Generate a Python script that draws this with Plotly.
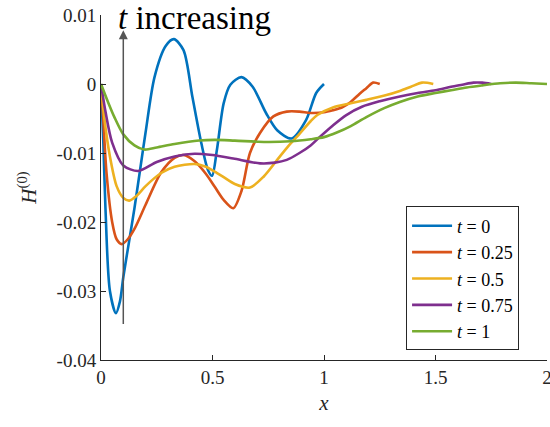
import plotly.graph_objects as go

# ---- data ----
x_t0 = [0, 0.01, 0.02, 0.04, 0.067, 0.085, 0.1, 0.125, 0.15, 0.175, 0.2, 0.24, 0.29, 0.327, 0.37, 0.41, 0.45, 0.48, 0.498, 0.52, 0.55, 0.58, 0.63, 0.68, 0.74, 0.79, 0.855, 0.92, 0.965, 1.0]
y_t0 = [0, -0.008, -0.018, -0.030, -0.0332, -0.0315, -0.028, -0.023, -0.018, -0.0125, -0.007, 0.001, 0.0055, 0.0065, 0.0049, -0.0019, -0.0086, -0.0125, -0.0133, -0.0095, -0.0028, -0.0001, 0.0010, -0.0004, -0.0042, -0.0067, -0.0079, -0.0052, -0.0013, 0.0]

x_t025 = [0, 0.01, 0.025, 0.05, 0.07, 0.093, 0.12, 0.15, 0.2, 0.27, 0.33, 0.37, 0.42, 0.47, 0.51, 0.55, 0.593, 0.63, 0.668, 0.713, 0.773, 0.833, 0.89, 0.94, 1.0, 1.04, 1.08, 1.12, 1.16, 1.19, 1.22, 1.25]
y_t025 = [0, -0.005, -0.013, -0.020, -0.0225, -0.0232, -0.0225, -0.0210, -0.0175, -0.0128, -0.0107, -0.0103, -0.0112, -0.0130, -0.0149, -0.0168, -0.0180, -0.0155, -0.0100, -0.0071, -0.0047, -0.0040, -0.0040, -0.0042, -0.0041, -0.0038, -0.0034, -0.0026, -0.0014, -0.0006, 0.0002, 0.0]

x_t05 = [0, 0.015, 0.04, 0.07, 0.1, 0.127, 0.16, 0.2, 0.27, 0.33, 0.42, 0.47, 0.51, 0.55, 0.6, 0.668, 0.73, 0.79, 0.84, 0.88, 0.94, 0.97, 1.04, 1.12, 1.19, 1.28, 1.34, 1.39, 1.44, 1.49]
y_t05 = [0, -0.005, -0.0105, -0.0148, -0.0165, -0.0169, -0.0162, -0.0148, -0.0129, -0.0120, -0.0116, -0.0120, -0.0127, -0.0135, -0.0145, -0.0150, -0.0134, -0.0110, -0.0090, -0.0076, -0.0054, -0.0045, -0.0034, -0.0028, -0.0023, -0.0016, -0.0010, -0.0004, 0.0002, 0.0]

x_t075 = [0, 0.02, 0.05, 0.1, 0.167, 0.25, 0.33, 0.42, 0.5, 0.593, 0.713, 0.78, 0.833, 0.89, 0.94, 0.98, 1.04, 1.1, 1.17, 1.25, 1.34, 1.42, 1.5, 1.57, 1.62, 1.67, 1.71, 1.75]
y_t075 = [0, -0.004, -0.0085, -0.0118, -0.0126, -0.0113, -0.0105, -0.0101, -0.0103, -0.0108, -0.0115, -0.0114, -0.0110, -0.0100, -0.0089, -0.0077, -0.0060, -0.0045, -0.0033, -0.0025, -0.0018, -0.0013, -0.0009, -0.0004, -0.0001, 0.0002, 0.0002, 0.0]

x_t1 = [0, 0.03, 0.06, 0.1, 0.15, 0.194, 0.25, 0.33, 0.44, 0.51, 0.6, 0.74, 0.85, 0.94, 1.0, 1.06, 1.12, 1.19, 1.27, 1.34, 1.42, 1.5, 1.57, 1.64, 1.71, 1.79, 1.86, 1.93, 2.0]
y_t1 = [0, -0.0025, -0.0048, -0.0073, -0.0089, -0.0095, -0.0092, -0.0087, -0.0082, -0.0081, -0.0082, -0.0084, -0.0083, -0.0080, -0.0077, -0.0070, -0.0061, -0.0048, -0.0035, -0.0026, -0.0018, -0.0013, -0.0009, -0.0005, -0.0002, 0.0001, 0.0002, 0.0001, 0.0]

series_names = ["<i>t</i> = 0", "<i>t</i> = 0.25", "<i>t</i> = 0.5", "<i>t</i> = 0.75", "<i>t</i> = 1"]
series_x = [x_t0, x_t025, x_t05, x_t075, x_t1]
series_y = [y_t0, y_t025, y_t05, y_t075, y_t1]
colors = ["#0072BD", "#D95319", "#EDB120", "#7E2F8E", "#77AC30"]

x_ticks = [0, 0.5, 1, 1.5, 2]
x_ticktext = ["0", "0.5", "1", "1.5", "2"]
y_ticks = [-0.04, -0.03, -0.02, -0.01, 0, 0.01]
y_ticktext = ["-0.04", "-0.03", "-0.02", "-0.01", "0", "0.01"]

arrow_x = 0.1
arrow_y0 = -0.035
arrow_y1 = 0.0078

FONT = "Liberation Serif, Times New Roman, serif"
AX = "#262626"

fig = go.Figure()
for xs, ys, name, c in zip(series_x, series_y, series_names, colors):
    fig.add_trace(go.Scatter(x=xs, y=ys, mode="lines", name=name,
                             line=dict(color=c, width=2.6, shape="spline", smoothing=0.8)))

# arrow
fig.add_annotation(x=arrow_x, y=arrow_y1, ax=arrow_x, ay=arrow_y0,
                   xref="x", yref="y", axref="x", ayref="y",
                   showarrow=True, arrowhead=2, arrowsize=1.2, arrowwidth=1.5,
                   arrowcolor="#555555", text="")
fig.add_annotation(x=0.07, y=1.047, xref="x", yref="paper", xanchor="left", yanchor="top",
                   text="<i>t</i> increasing", showarrow=False, borderpad=0,
                   font=dict(family=FONT, size=33, color="black"))

axis_common = dict(showgrid=False, zeroline=False, showline=True, linecolor=AX, linewidth=1,
                   ticks="inside", ticklen=5, tickcolor=AX, tickwidth=1,
                   tickfont=dict(family=FONT, size=19, color=AX), mirror=False,
                   ticklabeloverflow="allow")

fig.update_layout(
    width=550, height=427,
    margin=dict(l=101, r=3, t=15, b=67),
    paper_bgcolor="white", plot_bgcolor="white",
    xaxis=dict(range=[0, 2], tickvals=x_ticks, ticktext=x_ticktext,
               title=dict(text="<i>x</i>", font=dict(family=FONT, size=21, color=AX), standoff=8),
               automargin=False, **axis_common),
    yaxis=dict(range=[-0.04, 0.01], tickvals=y_ticks, ticktext=y_ticktext,
               title=dict(text="<i>H</i><sup>(0)</sup>", font=dict(family=FONT, size=21, color=AX), standoff=14),
               automargin=False, **axis_common),
    legend=dict(x=0.684, y=0.445, xanchor="left", yanchor="top",
                bgcolor="white", bordercolor=AX, borderwidth=1,
                font=dict(family=FONT, size=18, color="black"),
                tracegroupgap=0, itemwidth=40),
    showlegend=True,
)

fig.write_html("out.html")
